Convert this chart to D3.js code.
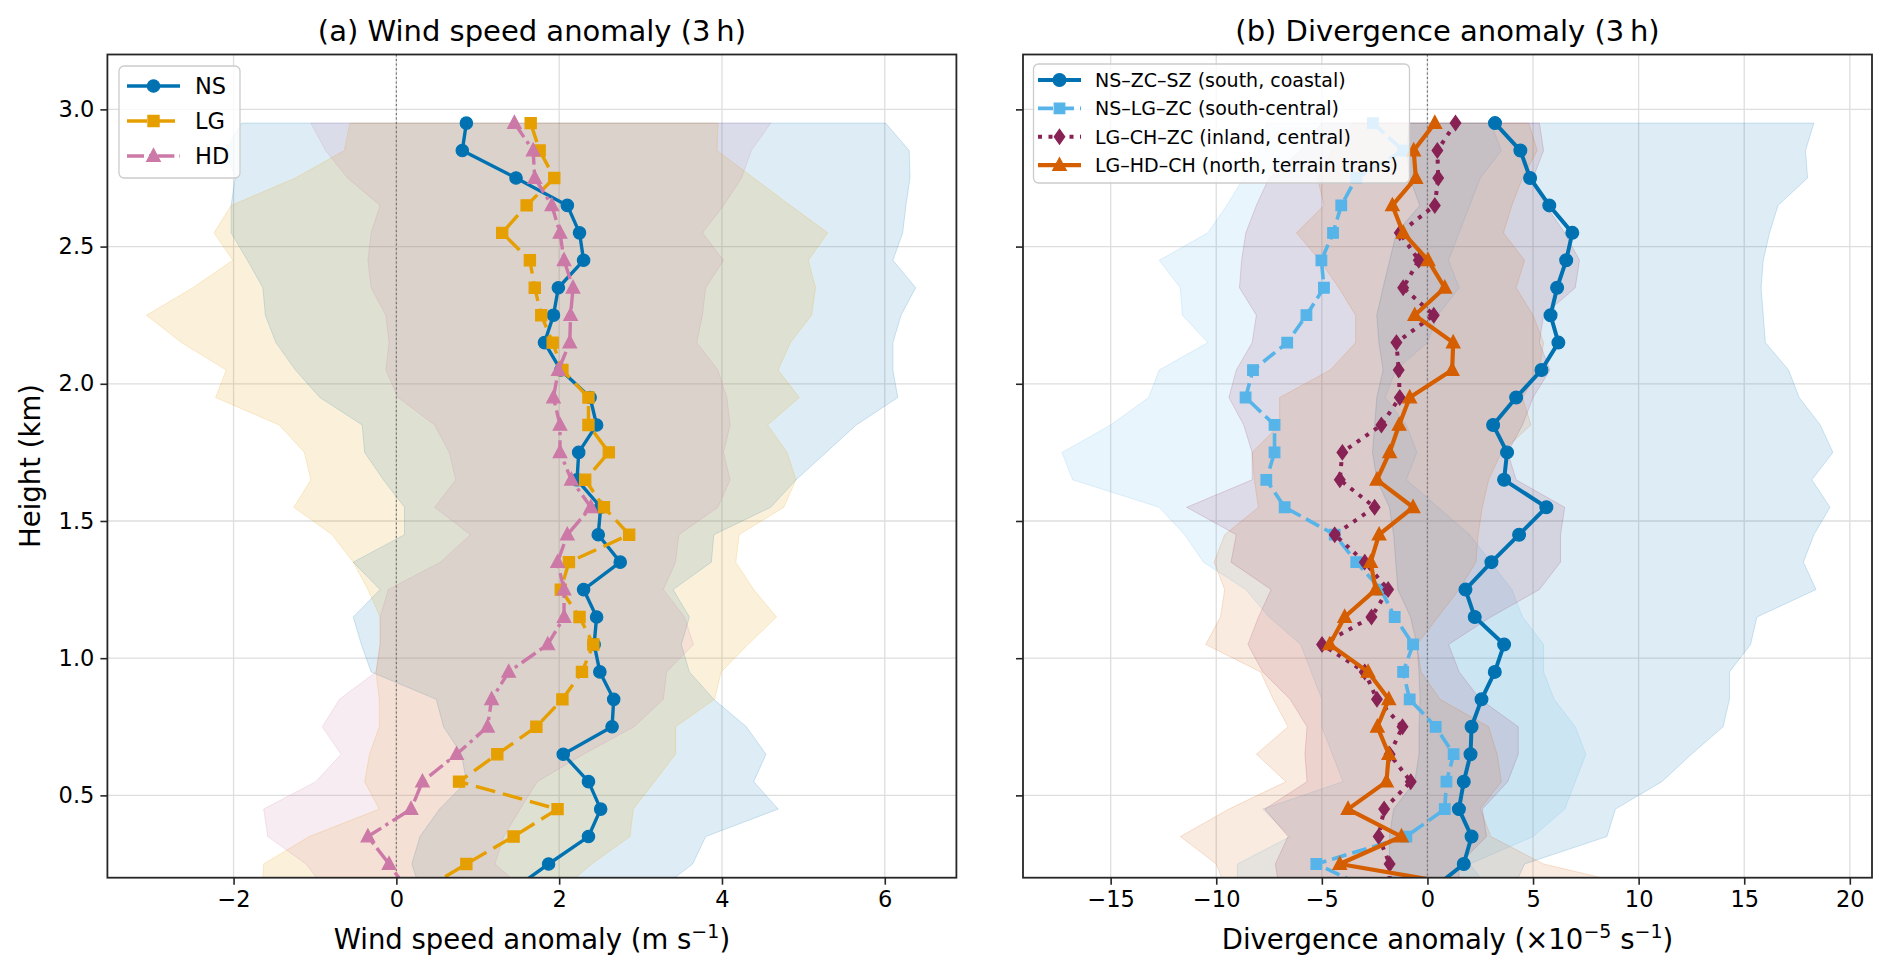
<!DOCTYPE html>
<html>
<head>
<meta charset="utf-8">
<script src="https://cdn.jsdelivr.net/npm/d3@7"></script>
<style>
  body { margin: 0; background: #fff; }
  svg { display: block; }
  text { font-family: "DejaVu Sans", sans-serif; fill: #000; }
</style>
</head>
<body>
<script>
// heights of the profile levels (km), top to bottom
const heights = [2.95, 2.85, 2.75, 2.65, 2.55, 2.45, 2.35, 2.25, 2.15, 2.05,
                 1.95, 1.85, 1.75, 1.65, 1.55, 1.45, 1.35, 1.25, 1.15, 1.05,
                 0.95, 0.85, 0.75, 0.65, 0.55, 0.45, 0.35, 0.25, 0.15];

// (a) wind speed anomaly, m/s
const nsWind = [0.86, 0.81, 1.47, 2.10, 2.25, 2.30, 1.99, 1.93, 1.82, 2.02,
                2.38, 2.46, 2.24, 2.22, 2.51, 2.48, 2.75, 2.30, 2.46, 2.43,
                2.50, 2.67, 2.65, 2.05, 2.36, 2.51, 2.36, 1.87, 1.40];
const lgWind = [1.65, 1.76, 1.94, 1.60, 1.30, 1.64, 1.70, 1.78, 1.92, 2.04,
                2.36, 2.36, 2.61, 2.32, 2.55, 2.86, 2.12, 2.02, 2.25, 2.42,
                2.28, 2.04, 1.72, 1.24, 0.77, 1.98, 1.44, 0.86, 0.30];
const hdWind = [1.45, 1.68, 1.70, 1.91, 2.01, 2.06, 2.17, 2.14, 2.13, 1.99,
                1.93, 2.01, 2.01, 2.15, 2.39, 2.10, 1.98, 2.06, 2.06, 1.86,
                1.38, 1.17, 1.12, 0.74, 0.32, 0.18, -0.35, -0.09, 0.15];

const nsWindLo = [-1.90, -2.10, -1.98, -2.03, -2.03, -1.83, -1.64, -1.61, -1.48, -1.24,
                  -0.94, -0.42, -0.39, -0.16, 0.10, 0.10, -0.53, -0.20, -0.53, -0.43,
                  -0.31, 0.49, 0.58, 0.80, 0.86, 0.53, 0.29, 0.19, 0.30];
const nsWindHi = [6.01, 6.30, 6.31, 6.26, 6.22, 6.10, 6.38, 6.20, 6.10, 6.10,
                  6.16, 5.65, 5.28, 4.91, 4.60, 3.90, 3.87, 3.40, 3.60, 3.50,
                  3.60, 3.90, 4.30, 4.54, 4.39, 4.69, 3.80, 3.64, 3.20];
const lgWindLo = [-0.57, -0.64, -1.24, -2.03, -2.24, -2.01, -2.50, -3.07, -2.64, -2.09,
                  -2.22, -1.44, -1.13, -1.05, -1.26, -0.79, -0.53, -0.35, -0.20, -0.20,
                  -0.25, -0.21, -0.21, -0.33, -0.39, -0.21, -1.07, -1.63, -1.65];
const lgWindHi = [3.95, 3.94, 4.39, 4.84, 5.30, 5.06, 5.15, 5.10, 4.84, 4.69,
                  4.95, 4.56, 4.80, 4.91, 4.76, 4.21, 4.17, 4.39, 4.67, 4.32,
                  3.99, 3.91, 3.43, 3.43, 3.17, 2.91, 2.87, 2.40, 2.00];
const hdWindLo = [-1.05, -0.87, -0.60, -0.20, -0.31, -0.35, -0.31, -0.13, -0.09, -0.13,
                  0.02, 0.47, 0.65, 0.73, 0.47, 0.91, 0.54, -0.10, -0.20, -0.20,
                  -0.25, -0.70, -0.91, -0.68, -0.99, -1.63, -1.58, -1.11, -0.85];
const hdWindHi = [4.60, 4.36, 4.24, 4.02, 3.76, 4.02, 3.80, 3.76, 3.69, 3.95,
                  4.06, 4.10, 4.02, 4.10, 3.95, 3.47, 3.43, 3.28, 3.54, 3.65,
                  3.32, 3.28, 2.92, 2.30, 1.73, 1.52, 1.32, 1.21, 1.60];

// (b) divergence anomaly, 1e-5 s-1
const nzsDiv = [3.20, 4.40, 4.86, 5.77, 6.86, 6.57, 6.14, 5.83, 6.20, 5.40,
                4.20, 3.11, 3.77, 3.63, 5.63, 4.34, 3.03, 1.80, 2.24, 3.63,
                3.19, 2.56, 2.09, 2.04, 1.72, 1.49, 2.09, 1.72, 0.10];
const nlzDiv = [-2.58, -1.15, -3.37, -4.08, -4.47, -5.02, -4.90, -5.73, -6.64, -8.26,
                -8.61, -7.24, -7.24, -7.63, -6.76, -4.39, -3.37, -2.20, -1.55, -0.68,
                -1.15, -0.84, 0.39, 1.24, 0.90, 0.82, -1.00, -5.26, -2.50];
const lczDiv = [1.33, 0.47, 0.51, 0.35, -1.31, -0.41, -1.15, 0.30, -1.47, -1.36,
                -1.31, -2.18, -4.03, -4.15, -2.50, -4.39, -2.97, -1.86, -2.65, -4.99,
                -2.97, -2.39, -1.18, -1.79, -0.79, -2.05, -2.31, -1.79, -1.80];
const lhcDiv = [0.35, -0.65, -0.55, -1.66, -1.15, 0.03, 0.82, -0.60, 1.22, 1.17,
                -0.84, -1.34, -1.79, -2.39, -0.68, -2.29, -2.69, -2.45, -3.92, -4.63,
                -2.81, -1.83, -2.37, -1.83, -1.94, -3.76, -1.23, -4.15, 3.40];

const nzsDivLo = [-0.84, -1.00, -0.84, -0.36, -1.47, -1.79, -2.10, -2.40, -2.30, -2.10,
                  -2.40, -2.50, -2.60, -2.40, -1.80, -1.60, -1.50, -1.40, -0.80, -0.50,
                  -0.40, -0.35, -0.40, -0.40, -0.60, -1.60, -1.80, -1.80, -1.60];
const nzsDivHi = [18.3, 17.9, 18.0, 16.6, 16.2, 15.9, 15.8, 15.9, 16.0, 17.1,
                  17.6, 18.6, 19.2, 18.2, 19.06, 18.3, 17.8, 18.4, 15.6, 15.3,
                  14.3, 14.3, 14.0, 12.5, 11.1, 8.9, 8.5, 4.6, 4.0];
const nlzDivLo = [-7.6, -8.0, -8.7, -9.5, -10.4, -12.7, -11.7, -11.6, -10.4, -12.7,
                  -13.2, -15.0, -17.3, -16.8, -12.7, -11.5, -10.6, -8.6, -7.5, -6.0,
                  -5.5, -5.0, -5.0, -4.5, -4.0, -7.8, -6.5, -9.0, -9.0];
const nlzDivHi = [3.0, 3.5, 2.5, 2.0, 1.5, 1.0, 1.5, 0.5, 0.0, -1.5,
                  -2.0, -1.0, -0.5, -1.0, 0.5, 2.0, 3.0, 4.0, 4.5, 5.5,
                  5.5, 6.0, 7.0, 7.5, 7.0, 6.5, 5.0, 2.0, 3.0];
const lczDivLo = [-5.0, -6.0, -7.5, -8.1, -8.6, -8.8, -8.9, -8.1, -8.3, -9.05,
                  -9.4, -8.7, -8.3, -8.3, -11.4, -9.05, -9.3, -7.4, -8.0, -8.5,
                  -7.8, -6.5, -5.7, -5.8, -5.7, -7.7, -6.6, -7.2, -7.0];
const lczDivHi = [5.3, 5.5, 5.0, 5.6, 6.5, 7.2, 7.0, 5.5, 5.3, 5.8,
                  5.0, 4.5, 3.8, 4.2, 6.5, 6.3, 6.3, 5.3, 3.0, 1.0,
                  1.5, 2.5, 4.3, 4.3, 3.8, 2.6, 2.8, 1.5, 1.5];
const lhcDivLo = [-3.5, -4.5, -5.2, -4.9, -6.2, -5.1, -4.2, -3.4, -3.4, -4.6,
                  -7.0, -7.0, -8.3, -8.2, -8.0, -9.6, -10.1, -9.6, -9.8, -10.5,
                  -7.9, -7.3, -6.6, -8.1, -6.7, -9.4, -11.7, -10.0, -9.5];
const lhcDivHi = [4.8, 5.2, 4.5, 4.0, 3.6, 4.6, 4.2, 5.0, 5.5, 5.3,
                  4.5, 4.9, 3.5, 2.9, 2.6, 2.4, 2.3, 1.5, 0.5, -0.5,
                  -0.3, 0.6, 2.9, 3.3, 3.5, 2.5, 3.0, 5.5, 11.0];

const yTicks = [0.5, 1.0, 1.5, 2.0, 2.5, 3.0];
const xTicksA = [-2, 0, 2, 4, 6];
const xTicksB = [-15, -10, -5, 0, 5, 10, 15, 20];

const W = 1892, H = 974;
const axTop = 54.5, axBot = 877.7;

const svg = d3.select("body").append("svg").attr("width", W).attr("height", H);

const y = d3.scaleLinear().domain([0.2, 3.2]).range([axBot, axTop]);

function fmt(d) {
  return d < 0 ? "\u2212" + Math.abs(d) : String(d);
}

function markerPath(kind, s) {
  if (kind === "circle") return d3.symbol(d3.symbolCircle, Math.PI * s * s)();
  if (kind === "square") return `M${-s},${-s}H${s}V${s}H${-s}Z`;
  if (kind === "diamond") return `M0,${-s * 1.2}L${s * 0.85},0L0,${s * 1.2}L${-s * 0.85},0Z`;
  if (kind === "triangle") return `M0,${-s * 1.1}L${s},${s * 0.78}L${-s},${s * 0.78}Z`;
}

function panel(opt) {
  const x = d3.scaleLinear().domain(opt.dom).range([opt.x0, opt.x1]);
  const g = svg.append("g");
  const clipId = "clip" + opt.id;
  svg.append("clipPath").attr("id", clipId).append("rect")
    .attr("x", opt.x0).attr("y", axTop).attr("width", opt.x1 - opt.x0).attr("height", axBot - axTop);

  // grid
  g.selectAll(".gx").data(opt.xticks).enter().append("line")
    .attr("x1", d => x(d)).attr("x2", d => x(d)).attr("y1", axTop).attr("y2", axBot)
    .attr("stroke", "#dedede").attr("stroke-width", 1.3);
  g.selectAll(".gy").data(yTicks).enter().append("line")
    .attr("x1", opt.x0).attr("x2", opt.x1).attr("y1", d => y(d)).attr("y2", d => y(d))
    .attr("stroke", "#dedede").attr("stroke-width", 1.3);

  const plot = g.append("g").attr("clip-path", `url(#${clipId})`);

  // spread bands
  opt.series.forEach(s => {
    const rows = heights.map((h, i) => ({ h: h, lo: s.lo[i], hi: s.hi[i] }));
    plot.append("path").datum(rows)
      .attr("d", d3.area().y(d => y(d.h)).x0(d => x(d.lo)).x1(d => x(d.hi)))
      .attr("fill", s.color).attr("fill-opacity", s.bandAlpha)
      .attr("stroke", s.color).attr("stroke-opacity", s.bandAlpha + 0.05).attr("stroke-width", 1);
  });

  // zero line
  plot.append("line").attr("x1", x(0)).attr("x2", x(0)).attr("y1", axTop).attr("y2", axBot)
    .attr("stroke", "#777").attr("stroke-width", 1.2).attr("stroke-dasharray", "2,2.5");

  // profiles
  opt.series.forEach(s => {
    const rows = heights.map((h, i) => ({ h: h, v: s.vals[i] }));
    plot.append("path").datum(rows)
      .attr("d", d3.line().x(d => x(d.v)).y(d => y(d.h)))
      .attr("fill", "none").attr("stroke", s.color).attr("stroke-width", s.lw)
      .attr("stroke-dasharray", s.dash).attr("stroke-linejoin", "round");
    plot.selectAll(null).data(rows).enter().append("path")
      .attr("d", markerPath(s.marker, s.ms))
      .attr("transform", d => `translate(${x(d.v)},${y(d.h)})`)
      .attr("fill", s.color).attr("stroke", s.color).attr("stroke-width", 1.2)
      .attr("stroke-linejoin", "miter");
  });

  // spines
  g.append("rect").attr("x", opt.x0).attr("y", axTop)
    .attr("width", opt.x1 - opt.x0).attr("height", axBot - axTop)
    .attr("fill", "none").attr("stroke", "#262626").attr("stroke-width", 1.8);

  // x axis
  const xa = g.append("g").attr("transform", `translate(0,${axBot})`)
    .call(d3.axisBottom(x).tickValues(opt.xticks).tickSize(7).tickPadding(6).tickFormat(fmt));
  xa.select(".domain").remove();
  xa.selectAll("line").attr("stroke", "#262626").attr("stroke-width", 1.6);
  xa.selectAll("text").attr("font-size", 22.5).attr("font-family", "DejaVu Sans").attr("fill", "#000");

  // y axis
  const ya = g.append("g").attr("transform", `translate(${opt.x0},0)`)
    .call(d3.axisLeft(y).tickValues(yTicks).tickSize(7).tickPadding(6)
      .tickFormat(d => opt.ylabels ? d.toFixed(1) : ""));
  ya.select(".domain").remove();
  ya.selectAll("line").attr("stroke", "#262626").attr("stroke-width", 1.6);
  ya.selectAll("text").attr("font-size", 22.5).attr("font-family", "DejaVu Sans").attr("fill", "#000");
  if (!opt.ylabels) ya.selectAll("text").remove();

  // title
  const cx = (opt.x0 + opt.x1) / 2;
  svg.append("text").attr("x", cx).attr("y", 41).attr("text-anchor", "middle")
    .attr("font-size", 29).text(opt.title);

  // x label with superscripts
  const xl = svg.append("text").attr("x", cx).attr("y", 949).attr("text-anchor", "middle")
    .attr("font-size", 27.5);
  let shift = 0;
  opt.xlabel.forEach(p => {
    const t = xl.append("tspan").text(p.t);
    if (p.sup) {
      t.attr("font-size", 19).attr("dy", -11);
      shift = 11;
    } else if (shift) {
      t.attr("dy", shift);
      shift = 0;
    }
  });

  // legend
  const L = opt.legend;
  const lg = svg.append("g");
  lg.append("rect").attr("x", L.x).attr("y", L.y).attr("width", L.w).attr("height", L.h)
    .attr("rx", 5).attr("fill", "#fff").attr("fill-opacity", 0.8)
    .attr("stroke", "#cccccc").attr("stroke-width", 1.3);
  opt.series.forEach((s, i) => {
    const yy = L.y + L.first + i * L.step;
    lg.append("line").attr("x1", L.hx0).attr("x2", L.hx1).attr("y1", yy).attr("y2", yy)
      .attr("stroke", s.color).attr("stroke-width", s.lw).attr("stroke-dasharray", s.dash);
    lg.append("path").attr("d", markerPath(s.marker, s.ms))
      .attr("transform", `translate(${(L.hx0 + L.hx1) / 2},${yy})`)
      .attr("fill", s.color).attr("stroke", s.color).attr("stroke-width", 1.2);
    lg.append("text").attr("x", L.tx).attr("y", yy).attr("dy", "0.36em")
      .attr("font-size", L.fs).text(s.name);
  });
}

panel({
  id: "a", x0: 107.4, x1: 956.4, dom: [-3.55, 6.88], xticks: xTicksA, ylabels: true,
  title: "(a) Wind speed anomaly (3\u2009h)",
  xlabel: [{ t: "Wind speed anomaly (m s" }, { t: "\u22121", sup: true }, { t: ")" }],
  legend: { x: 119, y: 66, w: 121, h: 112, first: 20, step: 35, hx0: 127, hx1: 180, tx: 195, fs: 22.5 },
  series: [
    { name: "NS", vals: nsWind, lo: nsWindLo, hi: nsWindHi, color: "#0072B2", bandAlpha: 0.13,
      lw: 3.4, dash: null, marker: "circle", ms: 6.2 },
    { name: "LG", vals: lgWind, lo: lgWindLo, hi: lgWindHi, color: "#E69F00", bandAlpha: 0.14,
      lw: 3.4, dash: "20,8", marker: "square", ms: 5.6 },
    { name: "HD", vals: hdWind, lo: hdWindLo, hi: hdWindHi, color: "#CC79A7", bandAlpha: 0.14,
      lw: 3.4, dash: "17,5,3.4,5", marker: "triangle", ms: 6.8 }
  ]
});

panel({
  id: "b", x0: 1023, x1: 1872, dom: [-19.15, 21.05], xticks: xTicksB, ylabels: false,
  title: "(b) Divergence anomaly (3\u2009h)",
  xlabel: [{ t: "Divergence anomaly (\u00d710" }, { t: "\u22125", sup: true }, { t: " s" },
           { t: "\u22121", sup: true }, { t: ")" }],
  legend: { x: 1033.5, y: 64, w: 376, h: 119, first: 16, step: 28.4, hx0: 1038, hx1: 1081, tx: 1095, fs: 19 },
  series: [
    { name: "NS\u2013ZC\u2013SZ (south, coastal)", vals: nzsDiv, lo: nzsDivLo, hi: nzsDivHi,
      color: "#0072B2", bandAlpha: 0.13, lw: 4.0, dash: null, marker: "circle", ms: 6.4 },
    { name: "NS\u2013LG\u2013ZC (south-central)", vals: nlzDiv, lo: nlzDivLo, hi: nlzDivHi,
      color: "#56B4E9", bandAlpha: 0.13, lw: 3.6, dash: "15,6", marker: "square", ms: 5.3 },
    { name: "LG\u2013CH\u2013ZC (inland, central)", vals: lczDiv, lo: lczDivLo, hi: lczDivHi,
      color: "#882255", bandAlpha: 0.12, lw: 4.0, dash: "4,6.5", marker: "diamond", ms: 6.2 },
    { name: "LG\u2013HD\u2013CH (north, terrain trans)", vals: lhcDiv, lo: lhcDivLo, hi: lhcDivHi,
      color: "#D55E00", bandAlpha: 0.12, lw: 4.2, dash: null, marker: "triangle", ms: 6.8 }
  ]
});

// shared y label
svg.append("text").attr("transform", "translate(40,466) rotate(-90)")
  .attr("text-anchor", "middle").attr("font-size", 27.5).text("Height (km)");
</script>
</body>
</html>
